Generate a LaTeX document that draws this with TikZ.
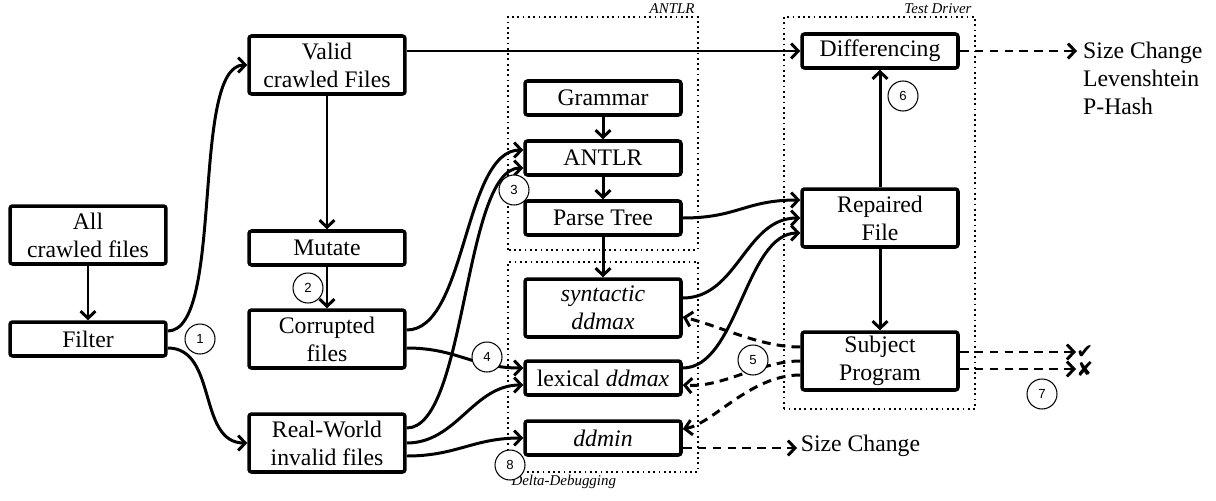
\documentclass[tikz,border=0pt]{standalone}
\usepackage{fontspec}
\setmainfont{Liberation Serif}
\setsansfont{Liberation Sans}
\newfontfamily\symfont{DejaVu Sans}
\usetikzlibrary{arrows.meta,positioning,calc}

\begin{document}
\begin{tikzpicture}[
    x=0.02cm, y=-0.02cm,
    font=\fontsize{13.5}{16}\selectfont,
    box/.style={rectangle, draw, line width=2pt, rounded corners=1.5pt,
      minimum width=3.12cm, minimum height=0.68cm, align=center, inner sep=1pt},
    tallbox/.style={box, minimum height=1.16cm},
    grp/.style={draw, dotted, line width=1pt},
    grplbl/.style={font=\fontsize{8.5}{9}\itshape, inner sep=1.5pt},
    num/.style={circle, draw, line width=0.6pt, fill=white, minimum size=0.6cm,
      inner sep=0pt, font=\sffamily\fontsize{7.5}{8}\selectfont},
    arr/.style={line width=1.7pt, -{Straight Barb[length=4pt,width=8.5pt]}},
    darr/.style={arr, dash pattern=on 5pt off 3.5pt}
  ]
    \useasboundingbox (0,0) rectangle (1216,500);

    % Groups
    \draw[grp] (508,250) rectangle (698,17) node[grplbl, anchor=south east] {ANTLR};
    \draw[grp] (698,262) rectangle (508,472) node[grplbl, anchor=north west] {Delta-Debugging};
    \draw[grp] (784,409) rectangle (975,17) node[grplbl, anchor=south east] {Test Driver};

    % Input side
    \node[tallbox] (all)   at (88,235)  {All\\crawled files};
    \node[box]     (filter) at (88,339) {Filter};
    \node[tallbox] (valid) at (327,65)  {Valid\\crawled Files};
    \node[box]     (mutate) at (327,248) {Mutate};
    \node[tallbox] (corrupt) at (327,339) {Corrupted\\files};
    \node[tallbox] (real)  at (327,443) {Real-World\\invalid files};

    % ANTLR and Delta-Debugging
    \node[box]     (grammar) at (603,98)  {Grammar};
    \node[box]     (antlr)   at (603,158) {ANTLR};
    \node[box]     (ptree)   at (603,218) {Parse Tree};
    \node[tallbox] (synt)    at (603,308) {\textit{syntactic}\\\textit{ddmax}};
    \node[box]     (lex)     at (603,378) {lexical \textit{ddmax}};
    \node[box]     (ddmin)   at (603,438) {\textit{ddmin}};

    % Test Driver
    \node[box]     (diff)    at (880,51)  {Differencing};
    \node[tallbox] (repair)  at (880,218) {Repaired\\File};
    \node[tallbox] (subject) at (880,361) {Subject\\Program};

    % Outputs
    \node[anchor=west, align=left] (metrics) at (1077,78) {Size Change\\Levenshtein\\P-Hash};
    \node[anchor=west, inner sep=2pt] (size) at (797,446) {Size Change};
    \node[anchor=west, align=left, inner sep=0pt,
      font=\symfont\fontsize{11.5}{10.5}\selectfont] (marks) at (1076,361) {✔\\✘};

    % Solid flow
    \draw[arr] (all) -- (filter);
    \draw[arr] ($(filter.east)+(0,-8)$) .. controls +(57,0) and +(-57,0) .. (valid.west);
    \draw[arr] ($(filter.east)+(0,9)$) .. controls +(50,0) and +(-50,0) .. (real.west);
    \draw[arr] (valid) -- (mutate);
    \draw[arr] (mutate) -- (corrupt);
    \draw[arr] (valid.east |- diff.west) -- (diff.west);
    \draw[arr] ($(corrupt.east)+(0,-9)$) .. controls +(60,0) and +(-60,0) .. ($(antlr.west)+(0,-8)$);
    \draw[arr] ($(real.east)+(0,-15)$) .. controls +(60,0) and +(-60,0) .. ($(antlr.west)+(0,10)$);
    \draw[arr] ($(corrupt.east)+(0,9)$) .. controls +(50,0) and +(-50,0) .. ($(lex.west)+(0,-10)$);
    \draw[arr] (real.east) .. controls +(50,0) and +(-50,0) .. ($(lex.west)+(0,7)$);
    \draw[arr] ($(real.east)+(0,13)$) .. controls +(50,0) and +(-50,0) .. (ddmin.west);
    \draw[arr] (grammar) -- (antlr);
    \draw[arr] (antlr) -- (ptree);
    \draw[arr] (ptree) -- (synt);
    \draw[arr] (ptree.east) .. controls +(55,0) and +(-55,0) .. ($(repair.west)+(0,-18)$);
    \draw[arr] ($(synt.east)+(0,-10)$) .. controls +(55,0) and +(-55,0) .. (repair.west);
    \draw[arr] ($(lex.east)+(0,-10)$) .. controls +(55,0) and +(-55,0) .. ($(repair.west)+(0,15)$);
    \draw[arr] (repair) -- (diff);
    \draw[arr] (repair) -- (subject);

    % Dashed flow
    \draw[darr] ($(subject.west)+(0,-14)$) .. controls +(-40,0) and +(40,10) .. ($(synt.east)+(0,9)$);
    \draw[darr] (subject.west) .. controls +(-40,0) and +(40,3) .. ($(lex.east)+(0,7)$);
    \draw[darr] ($(subject.west)+(0,14)$) .. controls +(-50,0) and +(30,-5) .. ($(ddmin.east)+(0,-9)$);
    \draw[darr] (diff.east) -- (diff.east -| metrics.west);
    \draw[darr] ($(ddmin.east)+(0,10)$) -- (size.west |- {$(ddmin.east)+(0,10)$});
    \draw[darr] ($(subject.east)+(0,-9)$) -- (marks.west |- {$(subject.east)+(0,-9)$});
    \draw[darr] ($(subject.east)+(0,8)$) -- (marks.west |- {$(subject.east)+(0,8)$});

    % Step numbers
    \node[num] (n1) at (200,339)  {1};
    \node[num] (n2) at (308,288)  {2};
    \node[num] (n3) at (514,190)  {3};
    \node[num] (n4) at (487,357)  {4};
    \node[num] (n5) at (753,360)  {5};
    \node[num] (n6) at (903,96)   {6};
    \node[num] (n7) at (1042,394) {7};
    \node[num] (n8) at (510,465)  {8};
\end{tikzpicture}
\end{document}
